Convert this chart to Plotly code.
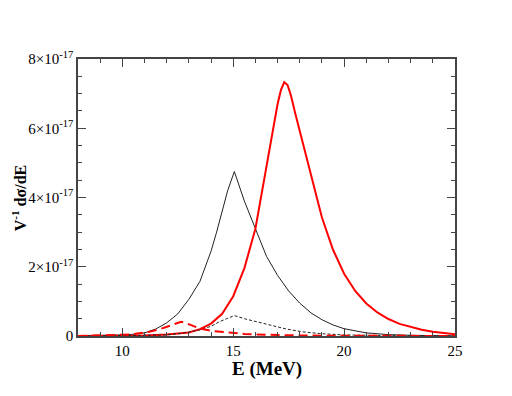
import numpy as np
import plotly.graph_objects as go

# values in units of 1e-17
e_black = [8, 9, 10, 10.5, 11, 11.5, 12, 12.5, 13, 13.5, 14, 14.25, 14.5, 14.75, 15.05,
           15.5, 16, 16.5, 17, 17.5, 18, 18.5, 19, 19.5, 20, 21, 22, 23, 25]
v_black = [0.0, 0.01, 0.03, 0.05, 0.09, 0.2, 0.38, 0.64, 1.06, 1.58, 2.45, 3.0, 3.6, 4.2, 4.75,
           3.9, 3.1, 2.3, 1.75, 1.3, 0.95, 0.67, 0.47, 0.32, 0.21, 0.09, 0.04, 0.02, 0.005]

e_red = [8, 10, 11, 12, 12.5, 13, 13.5, 14, 14.5, 15, 15.5, 16, 16.5, 16.75, 17, 17.15, 17.3,
         17.45, 17.6, 17.8, 18, 18.5, 19, 19.5, 20, 20.5, 21, 21.5, 22, 22.5, 23, 23.5, 24, 24.5, 25]
v_red = [0.0, 0.005, 0.015, 0.04, 0.06, 0.1, 0.2, 0.36, 0.64, 1.15, 1.95, 3.1, 4.9, 5.85, 6.7, 7.1, 7.33,
         7.25, 6.95, 6.42, 5.93, 4.62, 3.42, 2.49, 1.8, 1.3, 0.94, 0.68, 0.49, 0.35, 0.26, 0.18, 0.12, 0.08, 0.05]

e_black_d = [8, 10, 11, 11.96, 12.71, 13.47, 14, 14.37, 14.7, 15.05, 15.5, 16, 16.63, 17.4, 18.14,
             18.9, 20, 21, 23, 25]
v_black_d = [0.0, 0.005, 0.01, 0.03, 0.08, 0.17, 0.28, 0.41, 0.5, 0.59, 0.5, 0.42, 0.32, 0.2, 0.12,
             0.07, 0.03, 0.015, 0.005, 0.002]

e_red_d = [8, 8.9, 9.5, 10, 10.46, 11, 11.21, 11.7, 12.2, 12.5, 12.65, 12.8, 13.1, 13.47, 14.07, 14.5,
           15, 15.5, 16, 16.63, 17.5, 19, 21, 25]
v_red_d = [0.0, 0.01, 0.02, 0.035, 0.05, 0.09, 0.12, 0.2, 0.32, 0.39, 0.41, 0.39, 0.31, 0.22, 0.14, 0.11,
           0.08, 0.06, 0.045, 0.03, 0.02, 0.01, 0.005, 0.001]

y_ticks = [0, 2e-17, 4e-17, 6e-17, 8e-17]
y_text = ["0", "2×10<sup>-17</sup>", "4×10<sup>-17</sup>", "6×10<sup>-17</sup>", "8×10<sup>-17</sup>"]

scale = 1e-17
fig = go.Figure()
fig.add_trace(go.Scatter(x=e_black, y=np.array(v_black) * scale, mode="lines",
                         line=dict(color="#222222", width=1)))
fig.add_trace(go.Scatter(x=e_red, y=np.array(v_red) * scale, mode="lines",
                         line=dict(color="#ff0000", width=2)))
fig.add_trace(go.Scatter(x=e_black_d, y=np.array(v_black_d) * scale, mode="lines",
                         line=dict(color="#222222", width=1, dash="3px,2px")))
fig.add_trace(go.Scatter(x=e_red_d, y=np.array(v_red_d) * scale, mode="lines",
                         line=dict(color="#ff0000", width=2, dash="9px,5px")))

axis_common = dict(showgrid=False, zeroline=False, showline=True, linecolor="#444444", linewidth=1.5,
                   mirror="allticks", ticks="inside", ticklen=8, tickcolor="#444444",
                   tickfont=dict(family="Liberation Serif", size=15, color="black"))
fig.update_xaxes(range=[8, 25], tickvals=[10, 15, 20, 25],
                 minor=dict(dtick=1, ticks="inside", ticklen=4, tickcolor="#444444"),
                 **axis_common)
fig.update_yaxes(range=[0, 8e-17], tickvals=y_ticks, ticktext=y_text,
                 minor=dict(dtick=0.5e-17, ticks="inside", ticklen=4, tickcolor="#444444"),
                 **axis_common)
# axis titles as annotations, placed close to the tick labels
fig.add_annotation(text="<b>E (MeV)</b>", xref="paper", yref="paper",
                   x=0.5, y=-0.12, xanchor="center", yanchor="middle", showarrow=False,
                   font=dict(family="Liberation Serif", size=19, color="black"))
fig.add_annotation(text="<b>V<sup>-1</sup> dσ/dE</b>", textangle=-90, xref="paper", yref="paper",
                   x=-0.157, y=0.5, xanchor="center", yanchor="middle", showarrow=False,
                   font=dict(family="Liberation Serif", size=16, color="black"))
fig.update_layout(width=512, height=396, margin=dict(l=70, r=65, t=51, b=68, autoexpand=False),
                  paper_bgcolor="white", plot_bgcolor="white", showlegend=False)
fig.write_html("out.html")
